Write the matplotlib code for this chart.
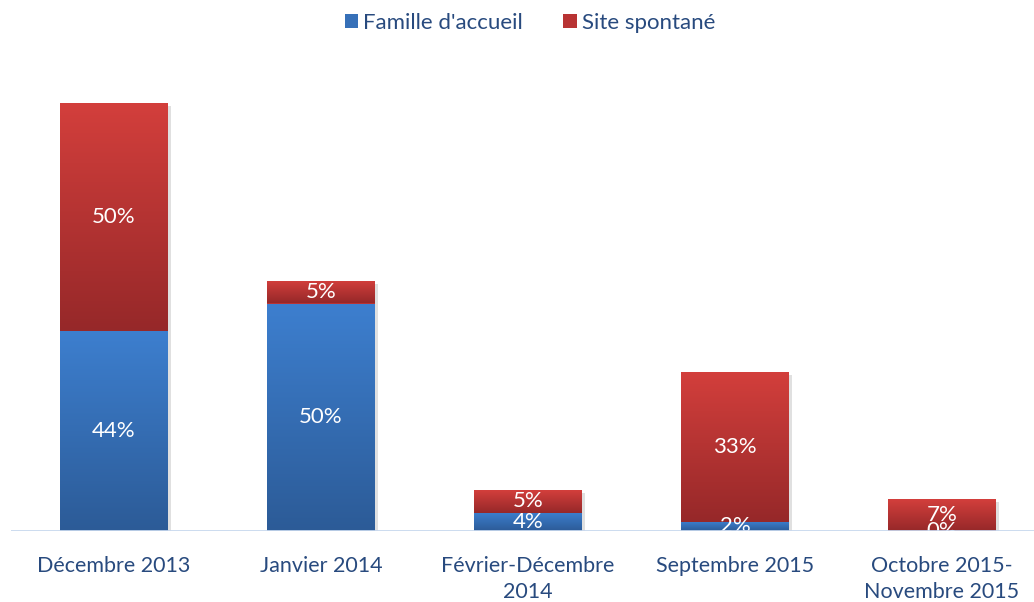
import numpy as np
import matplotlib.pyplot as plt
import matplotlib.patheffects as pe
from matplotlib.colors import LinearSegmentedColormap
from matplotlib.patches import Patch

categories = ['Décembre 2013', 'Janvier 2014', 'Février-Décembre\n2014',
              'Septembre 2015', 'Octobre 2015-\nNovembre 2015']
famille = [44, 50, 4, 2, 0]
site = [50, 5, 5, 33, 7]
series_names = ["Famille d'accueil", "Site spontané"]

plt.rcParams['font.family'] = ['Lato', 'DejaVu Sans']
text_color = '#284a7e'

fig = plt.figure(figsize=(10.34, 6.02), dpi=100)
px_per_pct = 4.55
base_px = 531
top_px = 40
ax = fig.add_axes([10.5 / 1034, (602 - base_px) / 602, 1 - 10.5 / 1034, (base_px - top_px) / 602])
ax.set_xlim(-0.5, -0.5 + (1034 - 10.5) / 207)
ax.set_ylim(0, (base_px - top_px) / px_per_pct)

blue_cmap = LinearSegmentedColormap.from_list('b', ['#2c5b97', '#3d7fcf'])
red_cmap = LinearSegmentedColormap.from_list('r', ['#962829', '#d33f3c'])
grad = np.linspace(0, 1, 256).reshape(-1, 1)

x = np.arange(len(categories))
width = 0.52
shadow = [pe.SimplePatchShadow(offset=(2, -2), shadow_rgbFace='#9a9a9a', alpha=0.3), pe.Normal()]

bars_b = ax.bar(x, famille, width, color='#3670b8', zorder=2, path_effects=shadow)
bars_r = ax.bar(x, site, width, bottom=famille, color='#b83333', zorder=2, path_effects=shadow)

# gradient fill, clipped to each bar segment
for bars, cmap in [(bars_b, blue_cmap), (bars_r, red_cmap)]:
    for b in bars:
        h = b.get_height()
        if h <= 0:
            continue
        x0, y0 = b.get_x(), b.get_y()
        im = ax.imshow(grad, cmap=cmap, origin='lower', aspect='auto',
                       extent=[x0, x0 + b.get_width(), y0, y0 + h], zorder=3)
        im.set_clip_path(b)

# value labels, clipped by the plot area like in the original
for i in range(len(categories)):
    ax.text(x[i], famille[i] / 2, f'{famille[i]}%', ha='center', va='center',
            color='white', fontsize=16, zorder=5, clip_on=True)
    ax.text(x[i], famille[i] + site[i] / 2, f'{site[i]}%', ha='center', va='center',
            color='white', fontsize=16, zorder=5, clip_on=True)

ax.axhline(0, color='#c8d8ee', lw=2, zorder=6)
for s in ax.spines.values():
    s.set_visible(False)
ax.set_yticks([])
ax.set_xticks(x)
ax.set_xticklabels(categories, color=text_color, fontsize=15.5, linespacing=1.38)
ax.tick_params(axis='x', length=0, pad=18)

handles = [Patch(facecolor='#3670b8'), Patch(facecolor='#b83333')]
fig.legend(handles, series_names, loc='center', bbox_to_anchor=(530 / 1034, 1 - 23 / 602),
           ncol=2, frameon=False, fontsize=16, labelcolor=text_color,
           handlelength=0.6, handleheight=0.6, handletextpad=0.25, columnspacing=1.8)

fig.savefig('out.png', dpi=100)
